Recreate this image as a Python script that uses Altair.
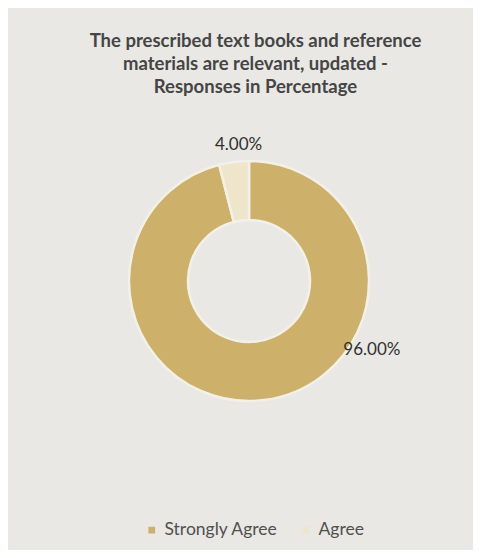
import altair as alt
import pandas as pd

categories = ["Strongly Agree", "Agree"]
values = [96.0, 4.0]
labels = ["96.00%", "4.00%"]
colors = ["#cdb06a", "#eee5cb"]

df = pd.DataFrame({"category": categories, "value": values, "label": labels, "order": [0, 1]})

CX, CY = 241, 173

arc = alt.Chart(df).mark_arc(innerRadius=61, outerRadius=120, stroke="#f3f0e8", strokeWidth=2.5).encode(
    theta=alt.Theta("value:Q", stack=True, scale=alt.Scale(domain=[0, 100])),
    order=alt.Order("order:Q"),
    color=alt.Color(
        "category:N",
        scale=alt.Scale(domain=categories, range=colors),
        legend=alt.Legend(
            title=None, orient="none", legendX=135, legendY=413, direction="horizontal",
            symbolType="square", symbolSize=45, labelFont="Lato", labelFontSize=17.5,
            labelColor="#505050", symbolStrokeWidth=0, columnPadding=19, labelOffset=4,
        ),
    ),
    x=alt.value(CX), y=alt.value(CY),
)

text_base = alt.Chart(df).transform_window(
    cum="sum(value)", sort=[alt.SortField("order")], frame=[None, 0]
).transform_calculate(mid="datum.cum - datum.value / 2")

lab_small = text_base.transform_filter(alt.datum.category == "Agree").mark_text(
    radius=139, font="Lato", fontSize=17, color="#303030", dx=7, dy=2
).encode(
    theta=alt.Theta("mid:Q", stack=None, scale=alt.Scale(domain=[0, 100])),
    text="label:N", x=alt.value(CX), y=alt.value(CY),
)

lab_big = text_base.transform_filter(alt.datum.category == "Strongly Agree").mark_text(
    radius=119, font="Lato", fontSize=17, color="#303030", dx=108, dy=-49
).encode(
    theta=alt.Theta("mid:Q", stack=None, scale=alt.Scale(domain=[0, 100])),
    text="label:N", x=alt.value(CX), y=alt.value(CY),
)

chart = alt.layer(arc, lab_small, lab_big).properties(
    width=465, height=442,
    autosize=alt.AutoSizeParams(type="none"),
    padding={"top": 100, "bottom": 0, "left": 0, "right": 0},
    background="#e9e8e4",
    title=alt.TitleParams(
        ["The prescribed text books and reference", "materials are relevant, updated  -", "Responses in Percentage"],
        font="Lato", fontSize=18.5, fontWeight="bold", color="#454545", lineHeight=23,
        anchor="middle", offset=12, dx=15,
    ),
).configure_view(stroke=None)

chart.save("out.html", embed_options={"renderer": "svg", "actions": False})
